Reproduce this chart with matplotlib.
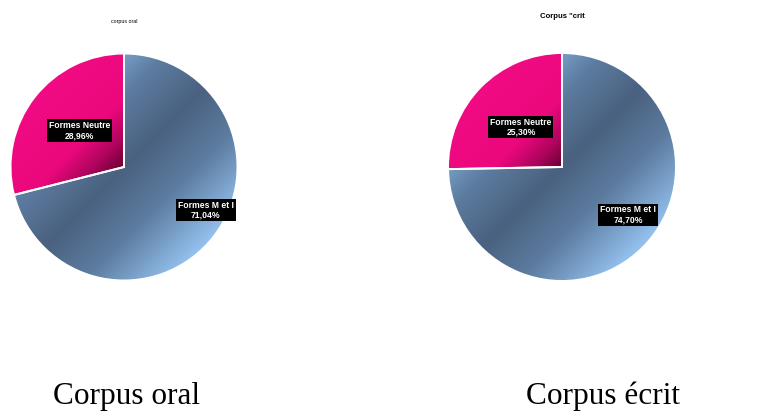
import matplotlib.pyplot as plt
import numpy as np
from matplotlib.colors import LinearSegmentedColormap

# data
categories = ['Formes M et F', 'Formes Neutre']
oral_values = [71.04, 28.96]
ecrit_values = [74.70, 25.30]
oral_labels = ['Formes M et I\n71,04%', 'Formes Neutre\n28,96%']
ecrit_labels = ['Formes M et I\n74,70%', 'Formes Neutre\n25,30%']

W, H = 780, 411
fig = plt.figure(figsize=(W / 100, H / 100), dpi=100)

blue_cmap = LinearSegmentedColormap.from_list(
    'b', [(0, '#4a6180'), (0.45, '#5d7ca0'), (1, '#95c3f0')])
pink_cmap = LinearSegmentedColormap.from_list(
    'p', [(0, '#6a0032'), (0.2, '#b0055e'), (0.42, '#ea087c'), (1, '#f20b84')])

# diagonal gradient: dark through the centre, light towards the corners
g = np.linspace(-1, 1, 300)
X, Y = np.meshgrid(g, g)
T = np.clip(np.abs(X - Y) / np.sqrt(2), 0, 1)


def draw_pie(cx, cy, r, values, labels, label_pos):
    ax = fig.add_axes([(cx - r) / W, (H - cy - r) / H, 2 * r / W, 2 * r / H])
    wedges, _ = ax.pie(values, startangle=90, counterclock=False,
                       wedgeprops=dict(edgecolor='white', linewidth=1.4))
    for w, cmap in zip(wedges, [blue_cmap, pink_cmap]):
        im = ax.imshow(T, cmap=cmap, vmin=0, vmax=1, extent=(-1, 1, -1, 1),
                       origin='lower', zorder=0.5)
        im.set_clip_path(w)
        w.set_facecolor('none')
        w.set_zorder(1)
    ax.set_xlim(-1, 1)
    ax.set_ylim(-1, 1)
    ax.set_aspect('equal')
    ax.axis('off')
    for (lx, ly), lab in zip(label_pos, labels):
        ax.text(lx, ly, lab, ha='center', va='center', color='white',
                fontsize=6.2, fontweight='bold', family='Liberation Sans',
                linespacing=1.15, zorder=3,
                bbox=dict(facecolor='black', edgecolor='none', pad=1.3))
    return ax


draw_pie(124, 167, 113.5, oral_values, oral_labels,
         [(0.72, -0.38), (-0.39, 0.32)])
draw_pie(562, 167, 114, ecrit_values, ecrit_labels,
         [(0.58, -0.42), (-0.36, 0.35)])

fig.text(124 / W, 1 - 21 / H, 'corpus oral', ha='center', va='center',
         fontsize=3.8, family='Liberation Sans')
fig.text(562 / W, 1 - 17 / H, 'Corpus "crit', ha='center', va='center',
         fontsize=5.6, fontweight='bold', family='Liberation Sans')

fig.text(126.5 / W, 1 - 396.5 / H, 'Corpus oral', ha='center', va='center',
         fontsize=22.5, family='Liberation Serif')
fig.text(603.5 / W, 1 - 396.5 / H, 'Corpus écrit', ha='center', va='center',
         fontsize=22.5, family='Liberation Serif')

fig.savefig('out.png', dpi=100, facecolor='white')
